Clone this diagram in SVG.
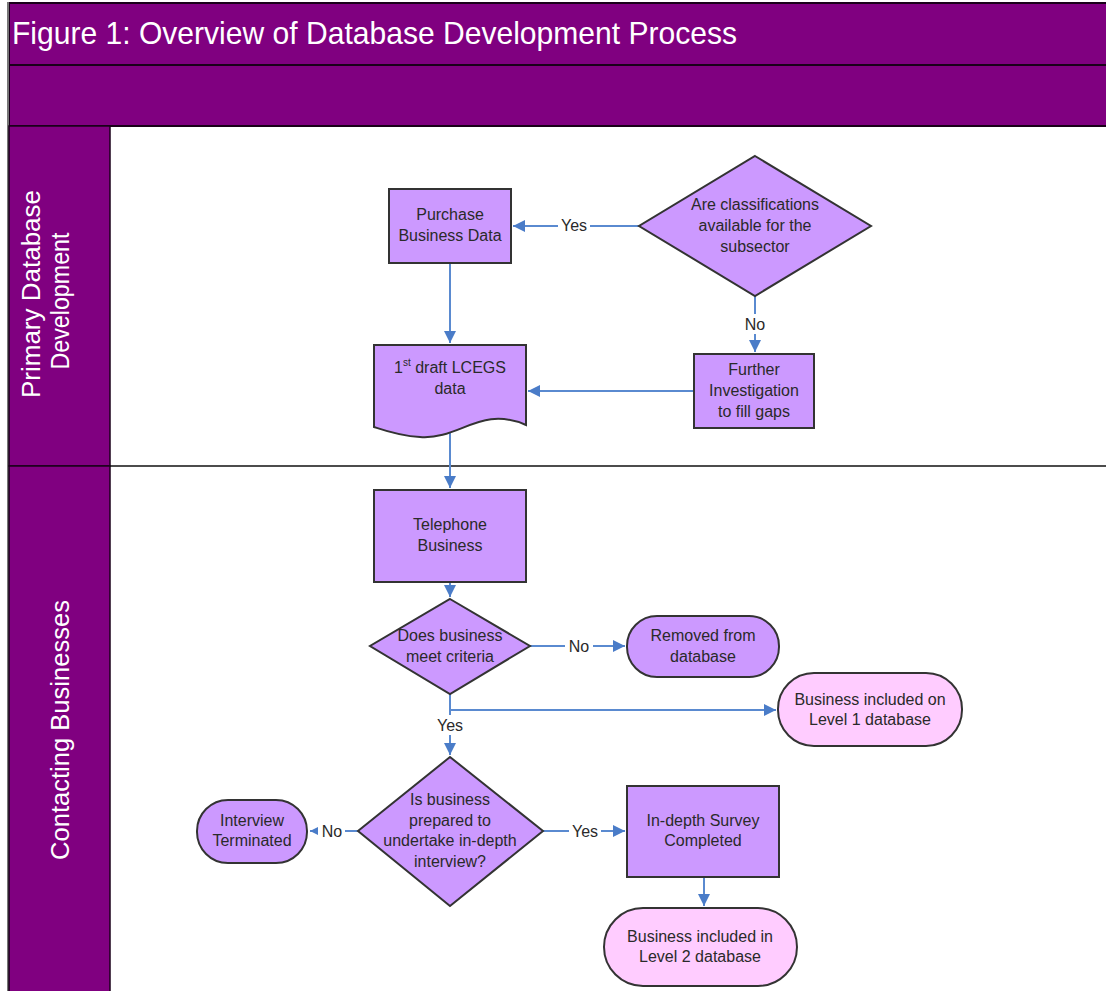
<svg xmlns="http://www.w3.org/2000/svg" width="1106" height="991" viewBox="0 0 1106 991">
<style>
.hdr{fill:#800080;stroke:#1a001a;stroke-width:2}
.proc{fill:#cc99ff;stroke:#333;stroke-width:2}
.term{fill:#cc99ff;stroke:#333;stroke-width:2}
.end{fill:#ffccff;stroke:#333;stroke-width:2}
.t{font-family:"Liberation Sans",Arial,sans-serif;font-size:16px;fill:#2a2a2a;text-anchor:middle}
.lbl{font-family:"Liberation Sans",Arial,sans-serif;font-size:16px;fill:#2a2a2a;text-anchor:middle}
.lane{font-family:"Liberation Sans",Arial,sans-serif;font-size:26px;fill:#fff;text-anchor:middle}
.c{fill:none;stroke:#5a8ad0;stroke-width:2;marker-end:url(#ah)}
</style>
<defs>
<marker id="ah" viewBox="0 0 10 10" refX="10" refY="5" markerWidth="6" markerHeight="6" orient="auto" markerUnits="strokeWidth">
<path d="M0,0 L10,5 L0,10 z" fill="#4a7cc8"/>
</marker>
</defs>
<rect width="1106" height="991" fill="#fff"/>
<g id="frame">
<rect class="hdr" x="9" y="3" width="1100" height="62"/>
<rect class="hdr" x="9" y="65" width="1100" height="61"/>
<text x="12" y="44" font-family="Liberation Sans,Arial,sans-serif" font-size="32" fill="#fff" textLength="725" lengthAdjust="spacingAndGlyphs">Figure 1: Overview of Database Development Process</text>
<line x1="8" y1="2" x2="8" y2="991" stroke="#777" stroke-width="2"/>
</g>
<g id="lane1">
<rect x="9" y="126" width="101" height="340" fill="#800080" stroke="#1a001a" stroke-width="1.5"/>
<text class="lane" transform="translate(40,294) rotate(-90)" textLength="208" lengthAdjust="spacingAndGlyphs">Primary Database</text>
<text class="lane" transform="translate(69,301) rotate(-90)" textLength="137" lengthAdjust="spacingAndGlyphs">Development</text>
</g>
<g id="lane2">
<rect x="9" y="466" width="101" height="530" fill="#800080" stroke="#1a001a" stroke-width="1.5"/>
<text class="lane" transform="translate(69,730) rotate(-90)" textLength="260" lengthAdjust="spacingAndGlyphs">Contacting Businesses</text>
<line x1="110" y1="466" x2="1106" y2="466" stroke="#111" stroke-width="1.5"/>
</g>
<g id="connectors">
<path class="c" d="M639,226 H513"/>
<path class="c" d="M755,296 V352"/>
<path class="c" d="M450,263 V343"/>
<path class="c" d="M694,391 H528"/>
<path class="c" d="M450,432 V488"/>
<path class="c" d="M450,582 V597"/>
<path class="c" d="M530,646 H625"/>
<path class="c" d="M450,694 V755"/>
<path class="c" d="M450,710 H776"/>
<path class="c" d="M358,831 H310"/>
<path class="c" d="M543,831 H625"/>
<path class="c" d="M704,877 V906"/>
<rect x="558" y="215" width="32" height="20" fill="#fff"/>
<text class="lbl" x="574" y="231">Yes</text>
<rect x="741" y="314" width="28" height="20" fill="#fff"/>
<text class="lbl" x="755" y="330">No</text>
<rect x="565" y="636" width="28" height="20" fill="#fff"/>
<text class="lbl" x="579" y="652">No</text>
<rect x="434" y="715" width="32" height="20" fill="#fff"/>
<text class="lbl" x="450" y="731">Yes</text>
<rect x="318" y="821" width="27" height="20" fill="#fff"/>
<text class="lbl" x="332" y="837">No</text>
<rect x="569" y="821" width="32" height="20" fill="#fff"/>
<text class="lbl" x="585" y="837">Yes</text>
</g>
<g id="n-purchase">
<rect class="proc" x="389" y="189" width="122" height="74"/>
<text class="t" x="450" y="220">Purchase</text>
<text class="t" x="450" y="241">Business Data</text>
</g>
<g id="n-classif">
<polygon class="proc" points="755,156 871,226 755,296 639,226"/>
<text class="t" x="755" y="210">Are classifications</text>
<text class="t" x="755" y="231">available for the</text>
<text class="t" x="755" y="252">subsector</text>
</g>
<g id="n-further">
<rect class="proc" x="694" y="354" width="120" height="74"/>
<text class="t" x="754" y="375">Further</text>
<text class="t" x="754" y="396">Investigation</text>
<text class="t" x="754" y="417">to fill gaps</text>
</g>
<g id="n-draft">
<path class="proc" d="M374,345 H526 V425 C480,405 460,440 420,437 C400,436 386,431 374,427 Z"/>
<text class="t" x="450" y="373">1<tspan font-size="10" dy="-7">st</tspan><tspan dy="7"> draft LCEGS</tspan></text>
<text class="t" x="450" y="394">data</text>
</g>
<g id="n-telephone">
<rect class="proc" x="374" y="490" width="152" height="92"/>
<text class="t" x="450" y="530">Telephone</text>
<text class="t" x="450" y="551">Business</text>
</g>
<g id="n-criteria">
<polygon class="proc" points="450,599 530,646 450,694 370,646"/>
<text class="t" x="450" y="641">Does business</text>
<text class="t" x="450" y="662">meet criteria</text>
</g>
<g id="n-removed">
<rect class="term" x="627" y="616" width="152" height="61" rx="30" ry="30"/>
<text class="t" x="703" y="641">Removed from</text>
<text class="t" x="703" y="662">database</text>
</g>
<g id="n-level1">
<rect class="end" x="778" y="673" width="184" height="73" rx="36" ry="36"/>
<text class="t" x="870" y="705">Business included on</text>
<text class="t" x="870" y="725">Level 1 database</text>
</g>
<g id="n-prepared">
<polygon class="proc" points="450,757 543,831 450,906 358,831"/>
<text class="t" x="450" y="805">Is business</text>
<text class="t" x="450" y="826">prepared to</text>
<text class="t" x="450" y="846">undertake in-depth</text>
<text class="t" x="450" y="867">interview?</text>
</g>
<g id="n-terminated">
<rect class="term" x="197" y="800" width="110" height="63" rx="31" ry="31"/>
<text class="t" x="252" y="826">Interview</text>
<text class="t" x="252" y="846">Terminated</text>
</g>
<g id="n-survey">
<rect class="proc" x="627" y="786" width="152" height="91"/>
<text class="t" x="703" y="826">In-depth Survey</text>
<text class="t" x="703" y="846">Completed</text>
</g>
<g id="n-level2">
<rect class="end" x="604" y="908" width="193" height="78" rx="39" ry="39"/>
<text class="t" x="700" y="942">Business included in</text>
<text class="t" x="700" y="962">Level 2 database</text>
</g>
</svg>
